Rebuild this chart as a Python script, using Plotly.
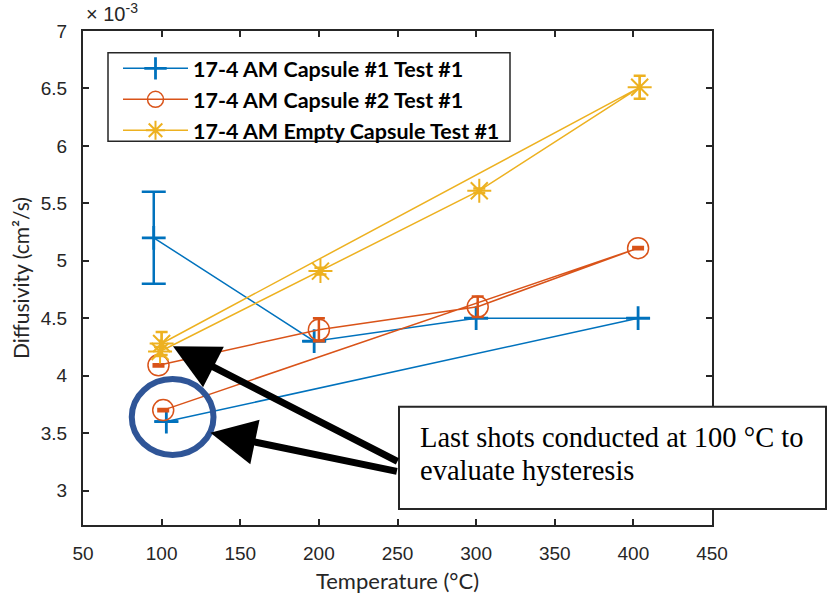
import plotly.graph_objects as go

# ---------------- data (diffusivity in units of 1e-3 cm^2/s) ----------------
cap1_temp = [95, 197, 300, 403, 103]
cap1_diff = [5.20, 4.30, 4.50, 4.50, 3.60]
cap1_err = [0.40, 0.0, 0.0, 0.0, 0.0]

cap2_temp = [98, 200, 301, 403, 101]
cap2_diff = [4.09, 4.40, 4.60, 5.11, 3.70]
cap2_err = [0.01, 0.10, 0.09, 0.01, 0.01]

empty_temp = [99, 201, 302, 404, 100]
empty_diff = [4.21, 4.91, 5.61, 6.51, 4.28]
empty_err = [0.04, 0.03, 0.02, 0.10, 0.10]

series_names = ["17-4 AM Capsule #1 Test #1",
                "17-4 AM Capsule #2 Test #1",
                "17-4 AM Empty Capsule Test #1"]
series_colors = ["#0072BD", "#D95319", "#EDB120"]

x_ticks = [50, 100, 150, 200, 250, 300, 350, 400, 450]
y_ticks = [3, 3.5, 4, 4.5, 5, 5.5, 6, 6.5, 7]

# ---------------- figure ----------------
fig = go.Figure()

specs = [
    (cap1_temp, cap1_diff, cap1_err, "cross-thin-open", 17, 2.8, 12),
    (cap2_temp, cap2_diff, cap2_err, "circle-open", 21, 1.5, 6),
    (empty_temp, empty_diff, empty_err, "asterisk-open", 20, 2.0, 6),
]
for (t, d, e, sym, sz, mlw, cap), name, col in zip(specs, series_names, series_colors):
    fig.add_trace(go.Scatter(
        x=t, y=d, name=name, mode="lines+markers",
        line=dict(color=col, width=1.5),
        marker=dict(symbol=sym, size=sz, color=col, line=dict(color=col, width=mlw)),
        error_y=dict(type="data", array=e, visible=True, color=col,
                     thickness=2.5, width=cap),
    ))

axis_common = dict(
    showline=True, linecolor="#262626", linewidth=2, mirror="ticks",
    ticks="inside", ticklen=6, tickwidth=2, tickcolor="#262626",
    showgrid=False, zeroline=False,
    tickfont=dict(family="Liberation Sans", size=19, color="#262626"),
    ticklabelstandoff=10,
)

fig.update_xaxes(range=[50, 450], tickvals=x_ticks,
                 title=dict(text="Temperature (°C)",
                            font=dict(family="Lato", size=22, color="#262626"),
                            standoff=11),
                 **axis_common)
fig.update_yaxes(range=[2.7, 7], tickvals=y_ticks,
                 title=dict(text="Diffusivity (cm²/s)",
                            font=dict(family="Lato", size=21, color="#262626"),
                            standoff=5),
                 **axis_common)

# plot area: x 83..712 px, y 31..528 px
L, R, T, B = 83, 827 - 712, 31, 602 - 528
pw, ph = 827 - L - R, 602 - T - B

def px(xp):
    return (xp - L) / pw

def py(yp):
    return (602 - B - yp) / ph

shapes = [
    # legend frame
    dict(type="rect", xref="paper", yref="paper",
         x0=px(108), x1=px(510), y0=py(142), y1=py(53),
         line=dict(color="#262626", width=1.5), fillcolor="white", layer="above"),
    # highlight circle
    dict(type="circle", xref="x", yref="y", x0=81, x1=133, y0=3.31, y1=3.97,
         line=dict(color="#2F5597", width=6)),
    # text box
    dict(type="rect", xref="paper", yref="paper",
         x0=px(399), x1=px(826), y0=py(512), y1=py(409),
         line=dict(color="#262626", width=2), fillcolor="white", layer="above"),
]

annotations = [
    dict(text="× 10<sup>-3</sup>", xref="paper", yref="paper", x=px(84), y=py(27),
         xanchor="left", yanchor="bottom", showarrow=False,
         font=dict(family="Liberation Sans", size=20, color="#262626")),
    dict(text="Last shots conducted at 100 °C to", xref="paper", yref="paper",
         x=px(418), y=py(458), xanchor="left", yanchor="bottom", showarrow=False,
         font=dict(family="Liberation Serif", size=28.5, color="black")),
    dict(text="evaluate hysteresis", xref="paper", yref="paper",
         x=px(418), y=py(491), xanchor="left", yanchor="bottom", showarrow=False,
         font=dict(family="Liberation Serif", size=28.5, color="black")),
    # arrows
    dict(x=107.2, y=4.256, xref="x", yref="y", ax=226, ay=116, text="",
         showarrow=True, arrowhead=2, arrowsize=1.3, arrowwidth=7, arrowcolor="black"),
    dict(x=131, y=3.503, xref="x", yref="y", ax=188, ay=39, text="",
         showarrow=True, arrowhead=2, arrowsize=1.3, arrowwidth=7, arrowcolor="black"),
]

fig.update_layout(
    width=827, height=602,
    margin=dict(l=L, r=R, t=T, b=B),
    plot_bgcolor="white", paper_bgcolor="white",
    shapes=shapes, annotations=annotations,
    showlegend=True,
    legend=dict(x=px(118), y=py(48), xanchor="left", yanchor="top",
                bgcolor="rgba(0,0,0,0)", borderwidth=0,
                font=dict(family="Lato", size=21.5, color="black", weight="bold"),
                itemwidth=65, tracegroupgap=0),
)

fig.write_html("out.html")
